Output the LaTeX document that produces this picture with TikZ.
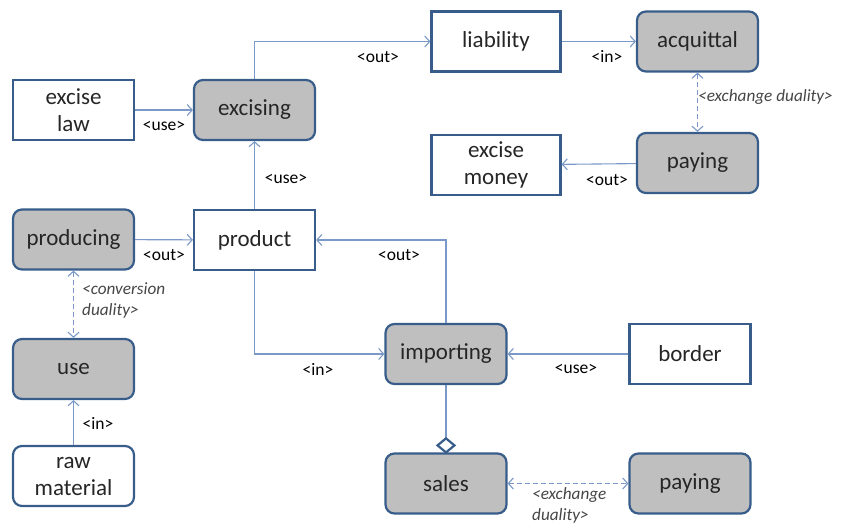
\documentclass[tikz,border=0pt]{standalone}
\usepackage{fontspec}
\setmainfont{Carlito}
\usetikzlibrary{arrows.meta}
\definecolor{bordc}{RGB}{56,93,138}
\definecolor{procc}{RGB}{191,191,191}
\definecolor{linec}{RGB}{122,152,200}
\definecolor{ilabc}{RGB}{70,70,70}
\newcommand{\nodefont}{\fontsize{23}{27}\selectfont}
\newcommand{\labfont}{\fontsize{17.5}{21}\selectfont}
\newcommand{\ilabfont}{\fontsize{17.2}{21.5}\selectfont\itshape}
\begin{document}
\begin{tikzpicture}[x=1pt,y=-1pt,
  ent/.style={draw=bordc, line width=2.2pt, fill=white, minimum width=121pt, minimum height=60pt, align=center, font=\nodefont, inner sep=2pt, text=black!85},
  proc/.style={ent, fill=procc, rounded corners=9pt},
  conn/.style={draw=linec, line width=1.1pt, -{Straight Barb[length=5pt,width=11pt]}},
  dual/.style={draw=linec, line width=1.1pt, dash pattern=on 5pt off 3pt, {Straight Barb[length=5pt,width=11pt]}-{Straight Barb[length=5pt,width=11pt]}},
  lab/.style={font=\labfont, text=black, inner sep=0pt},
  ilab/.style={font=\ilabfont, text=ilabc, inner sep=0pt, align=left}
]
\useasboundingbox (0,0) rectangle (842,526);
% nodes
\node[ent]  (law)      at (73.5,110)  {excise\\law};
\node[proc] (excising) at (254.5,110) {excising};
\node[ent, minimum width=129pt, minimum height=60pt] (liab) at (496,41.5) {liability};
\node[proc] (acq)      at (697.5,41.5) {acquittal};
\node[ent, minimum width=129pt] (money) at (496,165) {excise\\money};
\node[proc] (payt)     at (697.5,163) {paying};
\node[proc] (prod)     at (73.5,239.5) {producing};
\node[ent]  (product)  at (254.5,240) {product};
\node[proc] (use)      at (73.5,369) {use};
\node[ent, rounded corners=9pt] (raw) at (73.5,476) {raw\\material};
\node[proc] (imp)      at (446,354) {importing};
\node[ent]  (border)   at (690,354) {border};
\node[proc] (sales)    at (446,483.5) {sales};
\node[proc] (payb)     at (690,483.5) {paying};
% connectors
\draw[conn] (law) -- (excising);
\draw[conn] (excising.north) |- (liab.west);
\draw[conn] (liab) -- (acq);
\draw[dual] (acq) -- (payt);
\draw[conn] (payt) -- (money);
\draw[conn] (product) -- (excising);
\draw[conn] (prod) -- (product);
\draw[dual] (prod) -- (use);
\draw[conn] (raw) -- (use);
\draw[conn] (imp.north) |- (product.east);
\draw[conn] (product.south) |- (imp.west);
\draw[conn] (border) -- (imp);
\coordinate (dtip) at (sales.north);
\coordinate (dtop) at ([yshift=14pt]dtip);
\draw[draw=linec, line width=1.1pt] (imp.south) -- (dtop);
\draw[draw=bordc, fill=white, line width=2.2pt, line join=miter] (dtip) -- ++(-8.5,-7) -- ++(8.5,-7) -- ++(8.5,7) -- cycle;
\draw[dual] (sales) -- (payb);
% labels
\node[lab] (l1) at (164,126) {<use>};
\node[lab] (l2) at (378,57) {<out>};
\node[lab] (l3) at (286,179) {<use>};
\node[lab] (l4) at (607,56) {<in>};
\node[ilab, anchor=west] (l5) at (698,97) {<exchange duality>};
\node[lab] (l6) at (607,180) {<out>};
\node[lab] (l7) at (164,255) {<out>};
\node[ilab, anchor=north west] (l8) at (82,282) {<conversion\\duality>};
\node[lab] (l9) at (98,423) {<in>};
\node[lab] (l10) at (399,255) {<out>};
\node[lab] (l11) at (318,369) {<in>};
\node[lab] (l12) at (576,369) {<use>};
\node[ilab, anchor=north west] (l13) at (532,487) {<exchange\\duality>};
\end{tikzpicture}
\end{document}
